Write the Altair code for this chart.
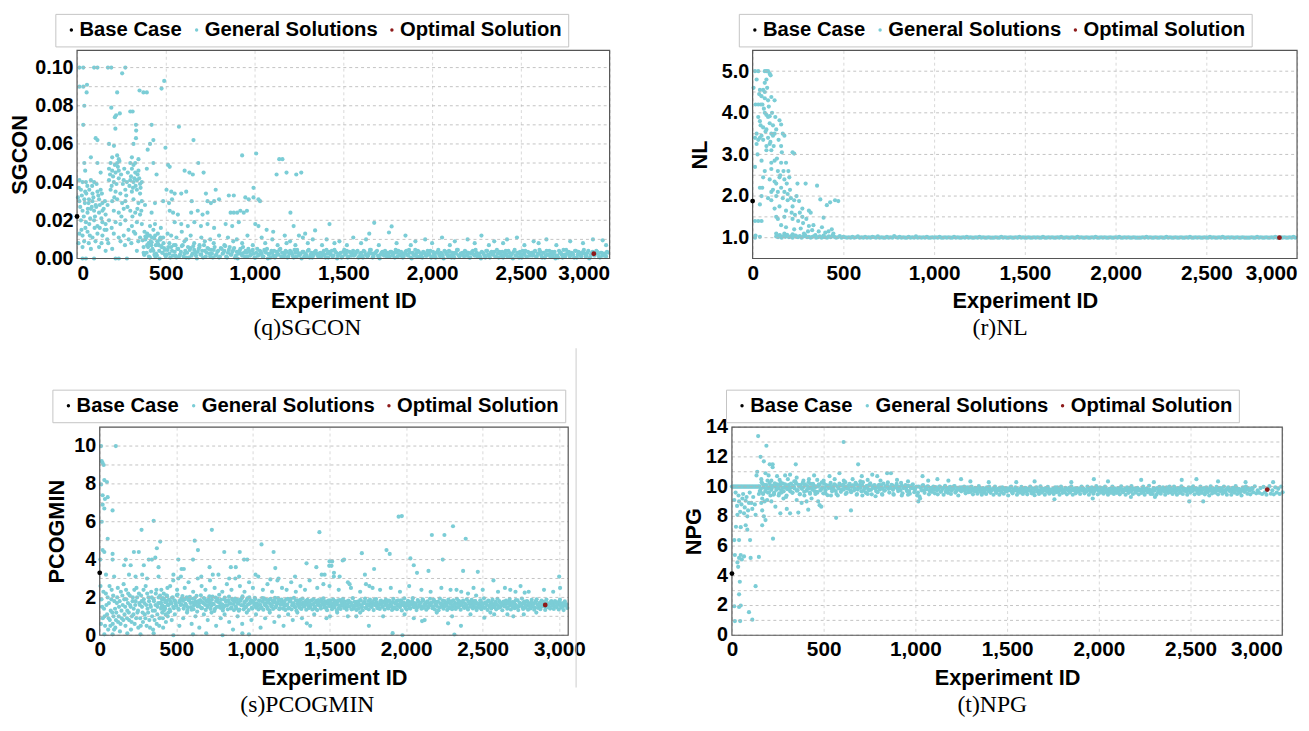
import altair as alt
import pandas as pd

SERIES = ["Base Case", "General Solutions", "Optimal Solution"]
SERIES_COLORS = ["#000000", "#7BCDD6", "#8E1B1B"]
X_TICKS = [0, 500, 1000, 1500, 2000, 2500, 3000]
SANS = "Liberation Sans"
SERIF = "Liberation Serif"

# ---------------- (q) SGCON ----------------
q_y_grid = [0.0, 0.01, 0.02, 0.03, 0.04, 0.05, 0.06, 0.07, 0.08, 0.09, 0.10]
q_y_labels = [0.0, 0.02, 0.04, 0.06, 0.08, 0.10]
q_points = [
 (13,.100),(35,.100),(96,.100),(115,.100),(174,.100),(193,.100),(272,.100),(254,.097),(491,.093),
 (13,.090),(35,.090),(56,.091),(54,.087),(226,.087),(352,.088),(374,.087),(393,.087),(476,.089),
 (41,.080),(193,.079),(300,.077),(313,.077),(241,.076),(220,.075),(213,.074),(332,.070),(420,.070),
 (574,.069),(35,.070),(216,.068),(333,.067),(105,.063),(115,.062),(332,.063),(430,.062),(656,.062),
 (180,.060),(208,.059),(411,.060),(318,.060),(498,.058),(398,.057),
 (78,.053),(198,.053),(226,.054),(235,.052),(239,.051),(309,.053),(346,.052),(930,.054),(1009,.055),
 (41,.050),(115,.050),(189,.050),(213,.049),(226,.050),(300,.050),(318,.049),(328,.050),(430,.050),
 (513,.049),(522,.048),(683,.050),(1139,.052),(1157,.052),
 (46,.046),(133,.045),(180,.047),(198,.046),(217,.045),(235,.046),(309,.047),(328,.045),(346,.046),
 (393,.047),(448,.044),(606,.046),(633,.045),(652,.044),(713,.045),(1124,.044),(1180,.045),(1235,.044),(1263,.045),
 (13,.041),(31,.040),(50,.040),(78,.041),(96,.040),(180,.041),(207,.040),(235,.042),(263,.041),
 (281,.040),(300,.041),(318,.040),(337,.041),(355,.039),(365,.040),
 (22,.036),(46,.035),(69,.036),(87,.034),(115,.035),(133,.036),(189,.036),(217,.035),(244,.034),
 (272,.036),(309,.035),(337,.036),(355,.034),(504,.036),(531,.035),(550,.034),(587,.034),(615,.035),
 (726,.034),(781,.036),(855,.033),(883,.033),(994,.037),
 (13,.030),(41,.031),(65,.029),(87,.030),(105,.028),(124,.031),(143,.029),(198,.030),(226,.031),
 (254,.029),(272,.030),(318,.031),(346,.029),(365,.030),(383,.028),(439,.029),(485,.030),(518,.029),
 (535,.031),(646,.030),(735,.030),(754,.029),(772,.030),(800,.031),(948,.032),(967,.031),(994,.032),
 (1022,.031),(1031,.030),
 (31,.025),(59,.024),(78,.026),(96,.025),(124,.024),(143,.025),(161,.023),(207,.025),(235,.024),
 (263,.026),(300,.025),(328,.024),(355,.023),(420,.024),(522,.025),(541,.024),(568,.023),(643,.024),
 (680,.025),(707,.023),(735,.024),(865,.024),(883,.024),(902,.024),(920,.025),(939,.024),(957,.025),(1202,.024),
 (22,.020),(50,.019),(69,.018),(96,.020),(115,.017),(143,.019),(161,.018),(180,.020),(217,.019),
 (244,.018),(272,.020),(309,.017),(337,.019),(365,.018),(411,.017),(439,.018),(472,.016),(550,.019),
 (587,.018),(624,.017),(661,.019),(698,.017),(735,.018),(772,.016),(837,.018),(874,.017),(911,.019),
 (1004,.018),(1022,.017),(1220,.017),
 (13,.013),(31,.012),(59,.014),(87,.011),(115,.013),(143,.012),(170,.010),(207,.013),(235,.011),
 (263,.012),(291,.010),(328,.013),(355,.011),(1068,.015),(1105,.014),(1170,.012),(1272,.011),(1328,.010),
 (31,.006),(78,.005),(124,.006),(161,.004),(198,.005),(337,.004),
 (31,.000),(50,.000),(96,.000),(217,.000),(235,.000),(281,.000),
 (1341,.0147),(1422,.018),(1674,.0187),(1646,.013),(1772,.0168),(1757,.0136),(1285,.013),
 (1406,.010),(1478,.009),(1556,.011),(1628,.010),(1850,.012),(1906,.009),(1961,.010),(2056,.011),
 (2128,.009),(2200,.010),(2278,.012),(2350,.009),(2422,.010),(2478,.011),(2572,.009),(2644,.010),
 (2778,.009),(2906,.010),(2961,.0095),
 (5,.032),(18,.027),(27,.033),(38,.022),(44,.029),(52,.034),(61,.026),(67,.031),(74,.021),(83,.027),
 (92,.032),(101,.022),(108,.027),(120,.033),(128,.028),(137,.021),(150,.026),(157,.030),(166,.015),
 (186,.044),(195,.038),(203,.043),(210,.032),(222,.039),(230,.048),(248,.044),(258,.039),(266,.047),
 (277,.033),(286,.045),(295,.038),(304,.043),(315,.037),(323,.042),(330,.038),(341,.044),(350,.042),
 (358,.037),(10,.037),(58,.038),(85,.038),(110,.039),(140,.034),(172,.028),(250,.022),(284,.027),
 (312,.022),(340,.026),(362,.025),(25,.015),(47,.016),(72,.012),(99,.016),(128,.016),(155,.015),
 (195,.016),(290,.015),(320,.014),(8,.008),(40,.009),(66,.008),(104,.009),(138,.008),(176,.008),
 (245,.009),(270,.007),(306,.008),(345,.009),
 (380,.014),(395,.013),(410,.012),(430,.015),(455,.013),(470,.011),(510,.013),(530,.012),(560,.011),
 (590,.014),(615,.010),(640,.012),(700,.011),(750,.010),(800,.012),(850,.011),(900,.010),(960,.012),
 (1040,.011),(1100,.010),(1200,.009),(1250,.012),
 (375,.006),(385,.010),(392,.003),(403,.008),(415,.004),(422,.011),(436,.002),(444,.007),(452,.009),
 (463,.004),(476,.006),(487,.008),(495,.002),(378,.002),(399,.012),(418,.007),(441,.001),(466,.010),(481,.003),
 (520,.008),(555,.007),(605,.009),(660,.008),(690,.007),(720,.009),(770,.008),(830,.007),(880,.009),
 (930,.008),(990,.007),(1060,.008),(1130,.007),(1180,.008),(1230,.007),(1300,.008),(1380,.007),(1450,.008),
 (1520,.007),(1600,.008),(1700,.007),(1800,.008),(1880,.007),(2000,.008),(2100,.007),(2240,.008),
 (2320,.007),(2400,.008),(2520,.007),(2600,.008),(2700,.007),(2850,.008),(2980,.007),
]
# dense band, read every 10 experiment IDs (two interleaved passes), values in units of 1e-4
q_band_unit = 10000
q_band_a_start, q_band_a_step = 370, 10
q_band_a = [
 95,20,110,60,5,85,40,120,15,70,100,30,55,10,45,25,60,15,35,5,
 50,20,65,10,40,30,5,55,25,45,15,35,60,20,5,40,30,50,10,25,
 45,15,35,5,55,25,40,10,30,60,20,45,5,35,25,50,15,30,40,10,
 35,20,45,5,30,15,40,25,10,35,50,20,5,30,40,15,25,45,10,30,
 20,35,10,40,25,5,30,45,15,25,35,10,20,40,5,30,15,35,25,10,
 30,15,40,5,25,35,20,10,45,30,15,25,5,35,20,40,10,30,25,15,
 25,40,10,30,5,35,20,15,45,25,10,30,40,5,20,35,15,25,30,10,
 35,20,5,30,40,15,25,10,35,20,45,5,30,15,25,40,10,20,35,25,
 15,30,40,10,25,5,35,20,30,15,40,25,10,35,5,20,30,45,15,25,
 30,10,35,20,5,25,40,15,30,20,10,35,25,5,40,15,30,20,35,10,
 25,35,15,5,30,20,40,10,25,35,15,30,5,20,40,25,10,35,15,30,
 20,40,10,25,35,5,30,15,20,40,25,10,35,15,5,30,20,45,10,25,
 35,15,25,5,40,20,30,10,35,25,15,40,5,30,20,25,35,10,30,15,
 25,10,30,
]
q_band_b_start, q_band_b_step = 375, 10
q_band_b = [
 30,115,70,10,90,50,105,25,80,0,65,110,45,20,60,5,40,70,15,50,
 10,35,70,25,5,60,45,15,65,30,0,50,20,40,70,10,55,25,45,5,
 60,20,40,10,50,30,65,5,45,20,35,55,15,0,40,25,60,10,30,50,
 15,40,25,5,50,20,35,10,45,30,0,25,40,15,5,35,20,50,30,10,
 40,5,25,35,15,45,10,30,20,0,35,25,10,45,20,5,30,40,15,25,
 10,30,20,45,5,25,40,15,35,0,20,30,10,45,25,5,35,15,40,20,
 35,5,25,15,40,20,10,30,45,5,25,35,15,0,30,20,40,10,25,35,
 15,30,45,10,20,35,5,25,40,15,30,0,20,45,10,35,25,5,30,15,
 40,20,5,35,15,30,45,10,25,0,35,20,40,15,30,5,25,45,10,20,
 25,40,15,30,5,35,20,45,10,25,0,30,15,40,20,5,35,25,10,45,
 5,25,35,15,40,10,30,20,0,45,15,25,35,5,20,40,10,30,25,15,
 35,10,25,45,15,30,5,40,20,10,35,25,0,15,40,30,5,20,45,25,
 10,30,20,40,5,35,15,25,45,10,30,0,20,35,15,40,25,5,30,20,
 15,35,
]
q_base = (0, 0.022)
q_opt = (2911, 0.0025)

# ---------------- (r) NL ----------------
r_y_grid = [1.0, 1.5, 2.0, 2.5, 3.0, 3.5, 4.0, 4.5, 5.0]
r_y_labels = [1.0, 2.0, 3.0, 4.0, 5.0]
r_points = [
 (13,5.0),(31,5.0),(67,5.0),(76,5.0),(85,5.0),(94,4.94),(99,4.9),(76,4.8),(67,4.72),(40,4.55),(58,4.55),
 (67,4.5),(49,4.4),(67,4.35),(85,4.3),(103,4.38),(121,4.3),(16,4.2),(31,4.2),(45,4.2),(54,4.2),(67,4.0),
 (76,3.95),(85,3.9),(94,3.92),(31,3.9),(40,3.8),(94,3.75),(112,3.7),(148,3.82),(157,3.72),(58,3.65),
 (76,3.6),(130,3.6),(166,3.5),(22,3.5),(49,3.45),(103,3.5),(112,3.45),(121,3.5),(175,3.45),(13,3.4),
 (31,3.35),(40,3.4),(58,3.35),(85,3.4),(22,3.25),(76,3.2),(94,3.25),(157,3.2),(76,3.1),(103,3.1),
 (220,3.05),(229,3.02),(49,2.85),(103,2.8),(121,2.85),(157,2.8),(184,2.8),(13,2.7),(67,2.6),(103,2.65),
 (139,2.6),(58,2.45),(94,2.4),(121,2.35),(130,2.3),(148,2.45),(175,2.4),(202,2.45),(247,2.3),(292,2.3),
 (355,2.25),(40,2.2),(103,2.1),(112,2.15),(139,2.1),(157,2.2),(175,2.1),(193,2.05),(49,2.0),(85,1.95),
 (103,1.9),(130,2.0),(166,1.95),(193,1.9),(211,1.95),(229,1.9),(256,1.88),(373,1.92),(427,1.85),(454,1.9),
 (472,1.88),(40,1.8),(121,1.7),(148,1.75),(184,1.65),(220,1.75),(274,1.7),(310,1.65),(409,1.78),(130,1.5),
 (139,1.45),(175,1.5),(220,1.45),(274,1.5),(13,1.4),(31,1.4),(49,1.4),(391,1.48),(157,1.3),(184,1.25),
 (229,1.2),(265,1.22),(310,1.28),(328,1.18),(436,1.2),(130,1.1),(148,1.05),(175,1.1),(220,1.08),(238,1.05),
 (283,1.1),(346,1.06),(391,1.05),(16,1.05),(40,1.02),(13,1.0),
 (5,4.6),(22,4.8),(27,3.0),(36,4.45),(44,3.7),(53,2.2),(62,4.1),(71,3.55),(80,4.6),(89,4.15),(98,3.3),
 (107,4.0),(116,3.2),(125,3.9),(134,2.9),(143,3.35),(152,2.5),(161,3.05),(170,2.6),(188,2.3),(197,2.6),
 (206,2.15),(215,1.6),(233,1.55),(242,2.0),(251,1.4),(260,1.6),(278,1.35),(296,1.45),(305,1.15),(320,1.6),
 (335,1.3),(364,1.15),(382,1.25),(400,1.12),(418,1.15),(445,1.1),
]
# dense band at NL = 1, read every 10 experiment IDs from ID 130, values in hundredths
r_band_unit = 100
r_band_start, r_band_step = 130, 10
r_band = [
 103,101,106,100,104,102,107,101,103,100,105,102,101,104,100,103,106,101,102,100,
 102,104,100,101,103,100,102,101,100,103,101,105,102,100,101,104,100,102,101,100,
 101,100,102,100,101,103,100,101,100,102,100,101,100,102,101,100,103,100,101,100,
 100,102,100,101,100,104,101,100,102,100,101,100,100,102,100,101,100,103,100,101,
 100,101,100,102,100,100,101,100,101,100,102,100,100,101,100,101,100,100,102,100,
 101,100,100,101,100,102,100,101,100,100,101,100,102,100,101,100,100,101,100,100,
 100,101,100,100,102,100,101,100,100,101,100,100,101,100,102,100,101,100,100,101,
 100,100,101,100,101,100,100,102,100,100,101,100,101,100,100,101,100,102,100,100,
 101,100,100,101,100,100,102,100,101,100,100,101,100,100,101,100,102,100,100,101,
 100,101,100,100,101,100,100,101,100,102,100,100,101,100,101,100,100,101,100,100,
 100,100,101,100,102,100,101,100,100,101,100,100,101,100,100,102,100,101,100,100,
 101,100,100,101,100,100,101,100,102,100,100,101,100,101,100,100,101,100,100,102,
 100,101,100,100,101,100,102,100,100,101,100,101,100,100,101,100,100,101,100,100,
 100,100,101,100,100,102,100,101,100,100,101,100,100,101,100,102,100,100,101,100,
 101,100,100,101,100,102,100,
]
r_base = (0, 1.88)
r_opt = (2903, 1.0)

# ---------------- (s) PCOGMIN ----------------
s_y_grid = [0, 1, 2, 3, 4, 5, 6, 7, 8, 9, 10]
s_y_labels = [0, 2, 4, 6, 8, 10]
s_points = [
 (9,10.0),(105,10.0),(13,9.2),(19,9.1),(26,9.0),(30,8.2),(47,8.1),(9,7.97),(19,7.4),(52,7.3),(34,7.2),
 (19,6.9),(30,6.7),(84,6.6),(352,6.05),(13,6.0),(273,5.57),(732,5.57),(1434,5.45),(52,5.1),(395,4.95),
 (620,5.0),(1056,4.8),(19,4.5),(30,4.4),(84,4.3),(223,4.4),(255,4.4),(373,4.6),(641,4.5),(813,4.4),
 (914,4.4),(1135,4.4),(4,4.0),(84,4.0),(170,4.0),(320,4.0),(341,4.0),(363,4.1),(513,4.0),(609,4.0),
 (942,4.0),(963,4.0),(1500,3.9),(1517,3.9),(1586,3.95),(159,3.7),(202,3.7),(288,3.7),(384,3.6),(534,3.5),
 (549,3.5),(717,3.6),(856,3.6),(888,3.6),(1146,3.55),(1350,3.8),(1414,3.6),(41,3.2),(94,3.1),(191,3.2),
 (234,3.1),(277,3.2),(309,3.0),(384,3.1),(481,3.2),(513,3.0),(663,3.1),(738,3.2),(845,3.0),(910,3.1),
 (1017,3.2),(1114,2.95),(1167,3.0),(1275,3.1),(1468,3.2),(1528,3.1),
 (1951,6.27),(1972,6.3),(2306,5.76),(2168,5.3),(2250,5.3),(2389,5.1),(1872,4.5),(1893,4.3),(1711,4.34),
 (2028,4.06),(2050,3.7),(2239,4.0),(1498,3.67),(1513,3.67),(1595,4.0),(1791,3.5),(1731,3.2),(2071,3.3),
 (2146,3.4),(2372,3.4),(2468,3.35),(1529,3.3),(1566,3.1),(1620,2.8),(1631,2.7),(1738,2.7),(1781,2.5),
 (1449,3.2),(1460,2.7),(2329,2.4),(2404,2.2),(2457,2.1),(2570,2.9),(2645,2.5),(2714,2.3),(2747,2.6),
 (2774,2.25),(2999,3.1),(3005,2.5),
 (1352,0.63),(1374,0.5),(2121,0.8),(2104,0.75),(2358,0.5),(2274,0.63),(2511,0.93),(1757,0.5),(1912,0.11),
 (1976,0.0),(2315,0.04),(2575,1.1),(2661,1.1),(2768,1.1),(1503,1.0),(1675,1.0),
 (30,0.05),(84,0.05),(180,0.1),(266,0.05),(352,0.1),(481,0.0),(609,0.05),(695,0.1),(802,0.0),(931,0.1),(974,0.05),
 (5,2.6),(12,1.9),(20,0.9),(28,1.4),(35,0.5),(40,2.2),(48,1.1),(55,0.3),(60,1.7),(66,0.8),(72,1.3),(78,2.4),
 (85,0.6),(90,1.0),(96,1.8),(102,0.4),(108,1.2),(114,2.0),(120,0.7),(126,1.5),(132,0.2),(138,2.3),(144,0.9),
 (150,1.6),(156,2.7),(162,1.1),(168,0.5),(174,1.9),(180,1.3),(186,2.2),(192,0.8),(198,1.6),(204,0.3),
 (210,1.0),(216,2.0),(222,1.4),(228,0.6),(234,1.8),(240,2.5),(246,1.2),(252,0.4),(258,1.7),(264,0.9),
 (270,2.1),(276,1.5),(282,0.7),(288,1.9),(294,1.1),(300,2.6),(306,0.5),(312,1.4),(318,2.0),(324,0.8),
 (330,1.6),(336,2.3),(342,1.0),(348,0.3),(354,1.8),(360,1.3),(366,2.2),(372,0.6),(378,1.5),(384,2.0),
 (390,0.9),(396,1.7),(402,2.4),(408,1.2),(414,0.4),(420,1.9),(426,1.4),(432,0.7),(438,2.1),(444,1.0),(450,1.6),
 (8,0.6),(16,1.5),(24,2.3),(32,1.0),(44,1.6),(52,2.0),(58,0.9),(64,2.6),(70,0.5),(76,1.9),(82,1.2),(88,2.1),
 (94,0.3),(100,1.4),(106,0.8),(112,1.7),(118,2.5),(124,1.0),(130,1.8),(136,0.6),(142,1.3),(148,2.1),
 (154,0.8),(160,1.9),(166,1.5),(172,2.4),(178,0.9),(184,1.7),(190,1.2),(196,2.1),(202,1.5),(208,0.7),
 (214,1.8),(220,1.1),(226,2.4),(232,1.6),(238,0.9),(244,2.0),(250,1.3),(256,2.2),(262,1.6),(268,0.5),
 (274,1.8),(280,1.2),(286,2.4),(292,1.7),(298,0.9),(304,1.6),(310,2.2),(316,1.2),(322,1.8),(328,0.4),
 (334,1.5),(340,2.0),(346,1.3),(352,1.9),(358,0.8),(364,1.6),(370,2.4),(376,1.1),(382,1.7),(388,0.5),
 (394,2.1),(400,1.4),(406,1.9),(412,0.9),(418,2.2),(424,1.5),(430,1.1),(436,1.8),(442,2.5),(448,1.2),
 (470,0.8),(490,1.1),(520,0.5),(545,0.9),(570,1.2),(600,0.6),(625,1.0),(650,0.4),(680,1.1),(705,0.8),
 (730,1.2),(760,0.5),(790,0.9),(815,1.1),(845,0.7),(870,0.3),(900,1.0),(930,0.6),(960,1.2),(990,0.8),
 (1020,1.1),(1050,0.4),(1080,0.9),(1110,1.2),(1140,0.7),(1170,1.0),(1200,0.5),(1230,1.1),(1260,0.8),
 (1290,1.2),(1320,0.9),(1400,1.1),(1480,0.9),(1550,1.2),(1620,1.0),(1700,1.2),(1850,1.0),(1990,1.1),
 (2050,0.9),(2200,1.2),(2300,1.0),(2420,1.1),(2550,1.2),(2700,1.0),(2850,1.2),
 (460,2.6),(480,2.9),(505,2.4),(530,3.1),(555,2.5),(580,2.8),(610,2.3),(640,3.0),(665,2.6),(690,2.4),
 (720,2.9),(750,2.5),(775,3.2),(800,2.3),(830,2.7),(860,2.4),(885,3.0),(915,2.6),(945,2.3),(975,2.8),
 (1000,2.5),(1035,3.1),(1065,2.4),(1095,2.7),(1125,2.3),(1160,2.9),(1190,2.5),(1220,2.4),(1250,2.8),
 (1280,2.3),(1310,2.6),(1340,2.4),(1370,2.9),(1420,2.5),(1500,2.6),(1560,2.4),(1640,2.5),(1700,2.3),
 (1760,2.6),(1830,2.4),(1900,2.5),(1960,2.3),(2020,2.6),(2100,2.4),(2160,2.3),(2230,2.5),(2290,2.4),
 (2360,2.3),(2440,2.5),(2500,2.4),(2600,2.3),(2680,2.4),(2800,2.3),(2900,2.4),(2960,2.3),
]
# dense band, read every 8 experiment IDs (two interleaved passes), values in hundredths
s_band_unit = 100
s_band_a_start, s_band_a_step = 400, 8
s_band_a = [
 172,158,191,145,180,205,163,137,176,198,150,185,168,212,141,174,160,195,182,155,
 166,201,147,188,171,135,193,159,178,208,152,169,186,143,175,197,161,183,149,190,
 173,156,204,164,139,181,194,151,170,187,162,146,199,177,158,184,168,142,192,165,
 176,153,189,167,136,182,196,157,171,148,186,163,200,174,145,179,160,191,169,154,
 183,161,147,178,195,158,170,140,187,166,152,181,173,198,156,168,185,144,176,162,
 171,155,188,163,142,179,193,159,168,150,184,165,175,146,189,161,172,153,181,167,
 158,176,149,185,164,170,141,182,160,174,152,188,166,157,179,145,171,163,184,154,
 168,150,180,162,175,143,186,159,170,155,178,147,165,183,152,172,160,141,177,164,
 155,173,161,184,149,168,176,145,163,181,157,170,150,166,187,158,174,143,162,179,
 166,152,178,160,171,146,183,164,155,175,142,168,180,157,163,149,185,161,172,153,
 169,158,176,144,162,181,154,170,165,147,178,160,173,151,184,163,156,175,145,167,
 159,172,150,180,164,155,177,146,168,161,183,153,170,158,174,143,165,179,152,162,
 171,148,166,182,157,163,175,150,169,160,145,178,164,154,173,159,181,147,167,156,
 162,177,153,168,145,174,160,183,151,166,171,157,148,176,163,155,180,149,169,161,
 154,172,165,146,179,158,167,150,175,162,156,184,152,170,160,147,173,164,155,178,
 166,151,174,159,168,145,180,162,157,171,149,165,176,153,163,170,158,146,175,161,
 168,155,172,149,163,177,158,166,152,170,160,164,
]
s_band_b_start, s_band_b_step = 404, 8
s_band_b = [
 148,196,132,175,210,160,188,127,168,201,143,179,156,215,135,184,163,207,141,190,
 158,130,185,203,149,172,138,196,165,125,180,153,211,143,170,193,134,177,160,206,
 139,187,166,128,199,150,176,214,145,163,131,190,157,182,137,204,168,148,186,133,
 194,142,171,130,188,159,205,137,178,152,195,133,167,185,140,174,198,146,162,136,
 181,144,197,135,165,189,150,174,132,192,158,139,184,147,170,196,138,163,188,141,
 176,134,160,193,145,182,137,169,198,148,131,185,156,172,139,194,152,166,135,187,
 143,180,162,136,191,150,174,133,186,158,141,177,195,146,165,132,183,154,170,138,
 190,147,168,131,184,157,139,176,193,144,163,135,181,152,172,137,196,149,160,134,
 178,140,186,155,132,170,194,143,161,137,188,151,175,133,166,191,145,158,139,183,
 150,173,136,189,160,142,180,154,134,192,147,169,138,185,157,176,131,164,195,144,
 137,182,158,141,174,196,148,163,133,186,152,171,140,190,145,167,135,179,156,193,
 170,143,188,136,161,177,132,194,150,165,140,181,155,134,189,147,172,138,184,159,
 139,192,149,176,135,167,183,144,158,190,136,173,151,187,142,164,180,133,169,146,
 185,138,162,195,147,171,134,180,156,141,188,150,166,137,193,145,174,160,132,178,
 152,183,140,168,191,136,175,157,143,186,149,133,170,160,194,139,178,146,181,135,
 164,142,187,151,135,176,190,145,161,138,183,154,172,134,189,148,167,141,180,156,
 139,181,150,174,136,188,146,169,133,179,157,144,
]
s_base = (0, 3.3)
s_opt = (2908, 1.6)

# ---------------- (t) NPG ----------------
t_y_grid = [0, 1, 2, 3, 4, 5, 6, 7, 8, 9, 10, 11, 12, 13, 14]
t_y_labels = [0, 2, 4, 6, 8, 10, 12, 14]
t_points = [
 (143,13.4),(609,13.0),(188,12.75),(156,12.0),(174,11.7),(206,11.5),(222,11.5),(222,11.3),(348,11.5),
 (688,11.5),(138,11.0),(134,10.75),(183,10.9),(200,10.75),(246,10.7),(290,10.75),(317,10.8),(353,10.6),
 (448,10.75),(532,10.7),(586,10.9),(658,10.5),(708,10.7),(765,10.8),(792,10.7),(846,10.9),(867,10.9),
 (1039,10.7),(1120,10.5),(1249,10.5),
 (13,9.1),(39,9.0),(57,9.2),(75,9.05),(93,8.9),(30,8.1),(45,8.3),(66,8.2),(84,8.0),(111,8.5),(129,8.1),
 (22,7.3),(48,7.27),(75,7.4),(84,7.1),(165,7.4),(183,7.75),(224,6.5),(13,6.4),(39,6.4),(99,6.4),
 (16,5.4),(39,5.2),(48,5.4),(66,5.3),(30,4.9),(54,5.1),(102,5.2),(147,5.27),(34,4.6),(43,3.6),(129,3.3),
 (39,2.75),(48,2.0),(39,1.9),(13,1.95),(93,1.55),(111,1.05),(16,0.95),(45,0.95),
 (147,9.5),(165,9.2),(192,9.1),(210,9.4),(237,8.65),(264,8.2),(281,9.2),(299,8.5),(317,8.2),(353,9.1),
 (380,8.9),(407,9.0),(434,9.2),(470,9.0),(487,8.65),(568,7.9),(649,8.4),(165,8.4),(174,8.0),(362,8.25),
 (416,8.45),(478,8.75),(577,9.4),(711,9.4),(783,9.35),(926,9.4),(1016,9.0),
 (1973,10.5),(2231,10.45),(2532,10.5),(2452,10.45),(2493,9.0),(2569,9.0),(1758,9.15),(1967,9.2),(2175,9.3),
 (20,9.6),(28,8.7),(36,9.4),(52,8.8),(61,9.5),(70,8.6),(80,9.3),(88,8.4),(97,9.6),(106,8.9),(116,9.3),
 (125,8.8),(152,9.7),(160,8.9),(170,9.55),(178,9.0),(196,9.6),(215,9.0),(230,9.5),(255,9.4),(270,9.6),
 (295,9.3),(330,9.6),(370,9.5),(395,9.4),(425,9.6),(455,9.5),(510,9.55),(540,9.4),(620,9.5),(680,9.45),
 (740,9.5),(820,9.45),(880,9.5),(960,9.45),
 (160,10.5),(215,10.4),(260,10.45),(305,10.5),(340,10.35),(390,10.4),(420,10.5),(465,10.45),(500,10.4),
 (560,10.5),(610,10.4),(700,10.35),(740,10.45),(810,10.4),(900,10.45),(960,10.35),(1070,10.4),(1180,10.4),
 (1300,10.35),(1400,10.3),(1550,10.3),(1650,10.35),(1850,10.3),(2050,10.35),(2300,10.3),(2650,10.35),
 (2800,10.3),(2950,10.3),
 (0,10.0),(5,10.0),(10,10.0),(15,10.0),(20,10.0),(25,10.0),(30,10.0),(35,10.0),(40,10.0),(45,10.0),
 (50,10.0),(55,10.0),(60,10.0),(65,10.0),(70,10.0),(75,10.0),(80,10.0),(85,10.0),(90,10.0),(95,10.0),
 (100,10.0),(105,10.0),(110,10.0),(115,10.0),(120,10.0),(125,10.0),(130,10.0),(135,10.0),(140,10.0),(145,10.0),
]
# dense band, read every 8 experiment IDs (two interleaved passes), values in hundredths
t_band_unit = 100
t_band_a_start, t_band_a_step = 150, 8
t_band_a = [
 1002,985,1018,995,970,1010,990,1025,978,1005,960,998,1015,987,1008,975,1020,993,1000,982,
 1012,968,995,1005,988,1022,976,1000,1010,985,997,1015,972,1003,990,1018,980,1007,995,965,
 1000,1012,983,995,1020,975,1005,990,1010,985,998,1016,970,1002,988,1008,978,1013,993,1001,
 986,1010,975,998,1006,990,1015,980,1000,992,1009,972,996,1004,985,1012,978,999,1007,988,
 995,1003,980,1010,990,972,1000,1008,985,996,1012,978,994,1003,987,1000,975,1006,990,998,
 984,1002,970,995,1008,988,978,1000,960,935,990,1005,975,995,982,1000,970,992,985,978,
 996,975,988,1000,970,985,995,965,990,978,998,972,986,1003,968,992,980,975,995,983,
 970,988,978,995,965,985,975,992,968,982,990,972,985,960,978,995,970,988,975,983,
 990,968,980,975,993,962,985,978,970,988,975,995,965,982,973,990,968,980,985,972,
 978,992,966,985,975,970,988,962,980,993,975,968,985,978,972,990,965,983,976,970,
 985,972,980,995,968,978,988,975,962,985,978,992,970,980,975,988,966,983,978,990,
 972,985,978,968,992,980,975,988,965,978,985,972,995,975,968,983,990,976,970,985,
 980,966,988,975,983,970,992,978,965,985,975,980,990,968,978,985,972,988,976,982,
 975,990,968,980,985,972,978,958,950,972,985,990,975,968,982,995,978,970,985,975,
 962,980,975,988,970,985,978,965,990,976,982,968,985,975,992,970,980,978,986,972,
 985,970,978,990,965,982,975,988,972,980,968,985,976,990,970,983,975,965,980,988,
 975,982,968,985,978,990,972,980,976,985,970,983,978,988,974,980,985,
]
t_band_b_start, t_band_b_step = 154, 8
t_band_b = [
 968,1030,950,1012,985,1040,962,1005,990,945,1022,978,1010,955,1028,992,968,1015,940,1003,
 985,1020,958,1000,1035,972,1012,948,990,1025,965,1008,982,1030,952,995,1018,970,1002,960,
 1015,975,1028,955,990,1010,942,1000,1025,968,985,1012,950,998,1020,965,1005,980,1030,958,
 990,1018,962,1008,975,1025,950,995,1012,968,1030,985,958,1005,975,1022,948,992,1010,970,
 962,1012,985,950,1020,975,998,1028,960,990,1008,945,1000,1018,970,985,1025,955,995,1010,
 970,1005,952,990,1015,962,995,940,1000,920,975,1010,958,985,1002,948,990,965,1000,955,
 985,948,1000,965,990,945,1005,975,958,995,950,985,1002,960,980,940,995,968,985,1000,
 955,995,962,980,1000,948,970,990,952,1003,965,945,990,975,950,985,1000,958,978,945,
 1000,958,985,945,970,995,952,990,968,940,985,1000,955,975,995,945,982,960,998,950,
 965,990,948,975,1000,955,985,942,995,965,950,1002,960,985,945,975,998,952,980,962,
 950,995,962,985,945,1000,958,970,992,948,975,960,1002,945,985,955,990,968,950,1000,
 988,955,970,1000,945,965,995,952,985,1003,948,975,960,990,952,1000,962,945,985,958,
 1000,950,975,958,990,948,1002,962,980,945,995,958,970,1003,950,985,960,992,948,975,
 958,1000,945,985,962,1005,950,975,990,930,945,960,998,952,985,968,945,995,958,1000,
 985,950,1000,962,945,990,958,1002,950,985,968,945,995,960,975,1002,948,988,960,950,
 1000,958,985,948,995,962,940,1002,955,985,960,998,948,975,990,952,1000,962,945,995,
 970,945,992,960,1003,950,985,958,940,995,965,1000,952,980,948,990,962,1002,955,975,
 958,990,950,998,962,945,985,1003,952,975,948,995,960,985,950,1000,962,
]
t_base = (0, 4.15)
t_opt = (2918, 9.8)


def general_df(points, unit, *bands):
    rows = [{"x": x, "y": y} for x, y in points]
    for start, step, vals in bands:
        rows += [{"x": start + i * step, "y": v / unit} for i, v in enumerate(vals)]
    df = pd.DataFrame(rows)
    df["series"] = "General Solutions"
    return df


def single_df(pt, name):
    return pd.DataFrame({"x": [pt[0]], "y": [pt[1]], "series": [name]})


def panel(gen, base, opt, *, x_max, y_dom, y_grid, y_labels, y_fmt, y_title, y_title_pad,
          caption, cap_dx, width, height, plot_left, leg_x, leg_y, frame, x_label_mode,
          separator=None, label_marks=False):
    # plot_left > 0: the drawn plot box starts left of this view's origin
    x_range = [-plot_left, width]
    if x_label_mode == "flush":
        x_axis_kw = dict(labelFlush=True)
    elif x_label_mode == "last":
        x_axis_kw = dict(labelFlush=False,
                         labelAlign={"condition": {"test": "datum.value >= 3000", "value": "right"},
                                     "value": "center"})
    else:
        x_axis_kw = dict(labelFlush=False)
    x_enc = alt.X("x:Q", scale=alt.Scale(domain=[0, x_max], range=x_range, nice=False, zero=False),
                  axis=alt.Axis(values=X_TICKS, format=",d", title="Experiment ID",
                                labelFontSize=21, titleFontSize=22, labelPadding=4,
                                titlePadding=8, grid=True, gridColor="#cfcfcf",
                                labelOverlap=False, **x_axis_kw))
    y_axis_kw = dict(offset=plot_left) if plot_left > 0 else {}
    if label_marks:
        y_axis_kw["labels"] = False
    y_enc = alt.Y("y:Q", scale=alt.Scale(domain=y_dom, nice=False, zero=False),
                  axis=alt.Axis(values=y_labels, format=y_fmt, title=y_title,
                                labelFontSize=20, titleFontSize=22, labelPadding=4,
                                titlePadding=y_title_pad, grid=False,
                                labelOverlap=False, **y_axis_kw))
    color = alt.Color("series:N",
                      scale=alt.Scale(domain=SERIES, range=SERIES_COLORS),
                      legend=alt.Legend(orient="none", legendX=leg_x, legendY=leg_y,
                                        direction="horizontal", title=None,
                                        symbolType="circle", symbolSize=12,
                                        symbolStrokeWidth=0, labelFont=SANS,
                                        labelFontSize=20.5, labelFontWeight="bold",
                                        labelColor="#000000", labelLimit=400,
                                        labelOffset={"expr": "-2"}, columnPadding=4,
                                        strokeColor="#c4c4c4", fillColor="#ffffff",
                                        padding=6, cornerRadius=0))
    grid_layer = alt.Chart(pd.DataFrame({"y": y_grid})).mark_rule(
        color="#b4b4b4", strokeDash=[3, 3], strokeWidth=0.8).encode(
        y="y:Q", x=alt.value(-plot_left), x2=alt.value(width))
    border_layer = alt.Chart(pd.DataFrame({"k": [0]})).mark_rect(
        fillOpacity=0, stroke="#555555", strokeWidth=1.2).encode(
        x=alt.value(-plot_left), x2=alt.value(width), y=alt.value(0), y2=alt.value(height))
    g_layer = alt.Chart(gen).mark_circle(size=18, opacity=1).encode(x=x_enc, y=y_enc, color=color)
    b_layer = alt.Chart(base).mark_circle(size=24, opacity=1).encode(x="x:Q", y="y:Q", color="series:N")
    o_layer = alt.Chart(opt).mark_circle(size=24, opacity=1).encode(x="x:Q", y="y:Q", color="series:N")
    fl, ft, fr = frame
    frame_layer = alt.Chart(pd.DataFrame({"k": [0]})).mark_rule(opacity=0, strokeOpacity=0).encode(
        x=alt.value(fl), x2=alt.value(fr), y=alt.value(ft), y2=alt.value(ft))
    layers = [g_layer, grid_layer, border_layer, b_layer, o_layer, frame_layer]
    if label_marks:
        layers.append(alt.Chart(pd.DataFrame({"y": y_labels})).mark_text(
            align="right", baseline="middle", font=SANS, fontSize=20, fontWeight="bold",
            color="#000000", dx=-4).encode(
            y="y:Q", x=alt.value(-plot_left), text=alt.Text("y:Q", format=y_fmt)))
    if separator is not None:
        sx, sy1, sy2 = separator
        layers.append(alt.Chart(pd.DataFrame({"k": [0]})).mark_rule(color="#cccccc", strokeWidth=1).encode(
            x=alt.value(sx), y=alt.value(sy1), y2=alt.value(sy2)))
    return alt.layer(*layers).properties(
        width=width, height=height,
        view=alt.ViewBackground(stroke="transparent"),
        title=alt.TitleParams(caption, orient="bottom", anchor="middle", frame="group",
                              font=SERIF, fontSize=24, fontWeight="normal", color="#000000",
                              offset=5, dx=cap_dx))


q = panel(general_df(q_points, q_band_unit,
                     (q_band_a_start, q_band_a_step, q_band_a),
                     (q_band_b_start, q_band_b_step, q_band_b)),
          single_df(q_base, "Base Case"), single_df(q_opt, "Optimal Solution"),
          x_max=3000, y_dom=[0, 0.109], y_grid=q_y_grid, y_labels=q_y_labels, y_fmt=".2f",
          y_title="SGCON", y_title_pad=3, caption="(q)SGCON", cap_dx=-48,
          width=517, height=211, plot_left=23, leg_x=-45, leg_y=-37, frame=(-92, -37, 525),
          x_label_mode="flush")

r = panel(general_df(r_points, r_band_unit, (r_band_start, r_band_step, r_band)),
          single_df(r_base, "Base Case"), single_df(r_opt, "Optimal Solution"),
          x_max=3000, y_dom=[0.5, 5.5], y_grid=r_y_grid, y_labels=r_y_labels, y_fmt=".1f",
          y_title="NL", y_title_pad=10, caption="(r)NL", cap_dx=-25,
          width=552, height=211, plot_left=0, leg_x=-14, leg_y=-37, frame=(-65, -37, 555),
          x_label_mode="last")

s = panel(general_df(s_points, s_band_unit,
                     (s_band_a_start, s_band_a_step, s_band_a),
                     (s_band_b_start, s_band_b_step, s_band_b)),
          single_df(s_base, "Base Case"), single_df(s_opt, "Optimal Solution"),
          x_max=3058, y_dom=[0, 11], y_grid=s_y_grid, y_labels=s_y_labels, y_fmt="d",
          y_title="PCOGMIN", y_title_pad=5, caption="(s)PCOGMIN", cap_dx=-27,
          width=475, height=211, plot_left=0, leg_x=-48, leg_y=-38, frame=(-92, -80, 525),
          x_label_mode="none", separator=(483, -80, 264))

t = panel(general_df(t_points, t_band_unit,
                     (t_band_a_start, t_band_a_step, t_band_a),
                     (t_band_b_start, t_band_b_step, t_band_b)),
          single_df(t_base, "Base Case"), single_df(t_opt, "Optimal Solution"),
          x_max=3000, y_dom=[0, 14], y_grid=t_y_grid, y_labels=t_y_labels, y_fmt="d",
          y_title="NPG", y_title_pad=27, caption="(t)NPG", cap_dx=-15,
          width=558, height=211, plot_left=0, leg_x=-6, leg_y=-38, frame=(-59, -80, 561),
          x_label_mode="last", label_marks=True)

row1 = alt.hconcat(q, r, spacing=55).resolve_scale(color="independent").resolve_legend(color="independent")
row2 = alt.hconcat(s, t, spacing=55).resolve_scale(color="independent").resolve_legend(color="independent")

chart = (
    alt.vconcat(row1, row2, spacing=6)
    .resolve_scale(color="independent")
    .resolve_legend(color="independent")
    .properties(padding=0, background="#ffffff")
    .configure_view(stroke="transparent")
    .configure_axis(domain=False, ticks=False, tickSize=0, gridDash=[3, 3],
                    gridWidth=0.8, labelFont=SANS, labelFontWeight="bold", labelColor="#000000",
                    titleFont=SANS, titleFontWeight="bold", titleColor="#000000")
)

chart.save("out.html", embed_options={"renderer": "svg", "actions": False})
